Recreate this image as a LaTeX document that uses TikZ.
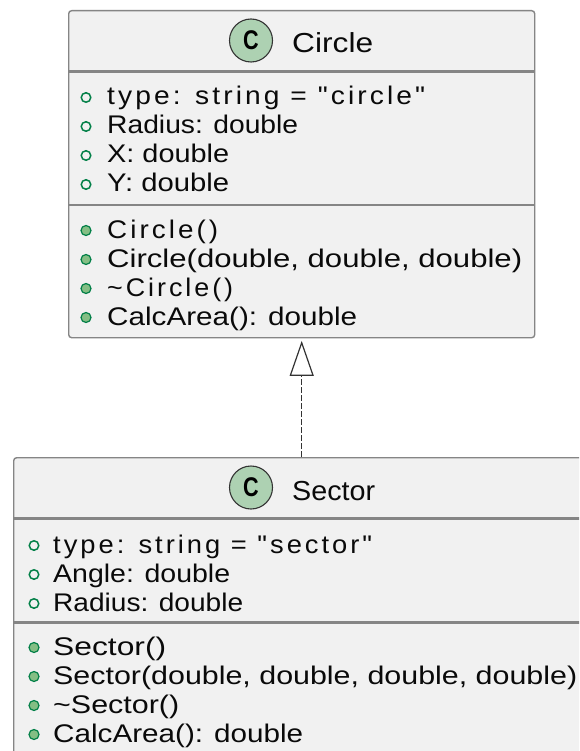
\documentclass[tikz,border=0pt]{standalone}
\usepackage{fontspec}
\usepackage{graphicx}
\setmainfont{Liberation Sans}
\newfontfamily\spacedfont{Liberation Sans}[LetterSpace=11]
\newfontfamily\iconfont{Liberation Sans}[FakeStretch=0.8]
\usetikzlibrary{arrows.meta}
\newcommand\fitw[2]{\resizebox{#1pt}{\height}{#2}}
\definecolor{boxbg}{HTML}{F1F1F1}
\definecolor{boxborder}{HTML}{858585}
\definecolor{iconfill}{HTML}{ADD1B2}
\definecolor{markgreen}{HTML}{038048}
\definecolor{markfill}{HTML}{84BE84}
\definecolor{txt}{HTML}{0A0A0A}
\tikzset{
  classbox/.style={draw=boxborder, fill=boxbg, line width=1.4pt, rounded corners=3pt,
    rectangle, inner sep=0pt, anchor=north west},
  sepline/.style={draw=boxborder, line width=2.4pt},
  iconc/.style={circle, draw=black!80, line width=1.1pt, fill=iconfill, minimum size=43pt,
    inner sep=0pt, font=\iconfont\bfseries\fontsize{27}{27}\selectfont, text=black},
  titletext/.style={anchor=base west, inner sep=0pt, text=txt, font=\fontsize{27.5}{30}\selectfont},
  member/.style={anchor=base west, inner sep=0pt, text=txt, font=\fontsize{25.5}{29}\selectfont},
  spacedmember/.style={member, font=\spacedfont\fontsize{25.5}{29}\selectfont},
  pubfield/.style={circle, draw=markgreen, line width=1.5pt, minimum size=9.5pt, inner sep=0pt},
  pubmethod/.style={circle, draw=markgreen, fill=markfill, line width=1.2pt, minimum size=10pt, inner sep=0pt},
  inherit/.style={draw=black!80, line width=1.3pt, dash pattern=on 6pt off 2pt,
    -{Triangle[open, length=35pt, width=24pt, line width=1.2pt]}, shorten >=2.5pt},
}
\begin{document}
\begin{tikzpicture}[x=1pt, y=-1pt]
\useasboundingbox (0,0) rectangle (579,751);
\clip (0,0) rectangle (579,751);
\fill[white] (0,0) rectangle (579,751);

% ---- Circle class ----
\node[classbox, minimum width=466pt, minimum height=327pt] (circlebox) at (68,10) {};
\draw[sepline] ([xshift=0.7pt,yshift=-61.5pt]circlebox.north west) -- ([xshift=-0.7pt,yshift=-61.5pt]circlebox.north east);
\draw[sepline] ([xshift=0.7pt,yshift=-195pt]circlebox.north west) -- ([xshift=-0.7pt,yshift=-195pt]circlebox.north east);
\node[iconc] (circleicon) at (251,40.5) {C};
\node[titletext] (circletitle) at (292,53) {\fitw{81}{Circle}};

\node[pubfield] (cf1) at (86,97.5) {};
\node[spacedmember] (cft1) at (107,105) {\fitw{318}{type: string = "circle"}};
\node[pubfield] (cf2) at (86,126.5) {};
\node[member] (cft2) at (107,134) {\fitw{191}{Radius: double}};
\node[pubfield] (cf3) at (86,155.5) {};
\node[member] (cft3) at (107,163) {\fitw{122}{X: double}};
\node[pubfield] (cf4) at (86,184.5) {};
\node[member] (cft4) at (107,192) {\fitw{122}{Y: double}};

\node[pubmethod] (cm1) at (86,230.5) {};
\node[spacedmember] (cmt1) at (107,238) {\fitw{111}{Circle()}};
\node[pubmethod] (cm2) at (86,259.5) {};
\node[member] (cmt2) at (107,267) {\fitw{415}{Circle(double, double, double)}};
\node[pubmethod] (cm3) at (86,288.5) {};
\node[spacedmember] (cmt3) at (107,296) {\fitw{126}{\char"7E Circle()}};
\node[pubmethod] (cm4) at (86,317.5) {};
\node[member] (cmt4) at (107,325) {\fitw{250}{CalcArea(): double}};

% ---- Sector class ----
\node[classbox, minimum width=576pt, minimum height=330pt] (sectorbox) at (13,457) {};
\draw[sepline] ([xshift=0.7pt,yshift=-61.5pt]sectorbox.north west) -- ([xshift=-0.7pt,yshift=-61.5pt]sectorbox.north east);
\draw[sepline] ([xshift=0.7pt,yshift=-165.5pt]sectorbox.north west) -- ([xshift=-0.7pt,yshift=-165.5pt]sectorbox.north east);
\node[iconc] (sectoricon) at (251,487.5) {C};
\node[titletext] (sectortitle) at (292,500) {\fitw{83}{Sector}};

\node[pubfield] (sf1) at (34,545.5) {};
\node[spacedmember] (sft1) at (53,553) {\fitw{319}{type: string = "sector"}};
\node[pubfield] (sf2) at (34,574.5) {};
\node[member] (sft2) at (53,582) {\fitw{177}{Angle: double}};
\node[pubfield] (sf3) at (34,603.5) {};
\node[member] (sft3) at (53,611) {\fitw{190}{Radius: double}};

\node[pubmethod] (sm1) at (34,647.5) {};
\node[member] (smt1) at (53,655) {\fitw{113}{Sector()}};
\node[pubmethod] (sm2) at (34,676.5) {};
\node[member] (smt2) at (53,684) {\fitw{524}{Sector(double, double, double, double)}};
\node[pubmethod] (sm3) at (34,705.5) {};
\node[member] (smt3) at (53,713) {\fitw{126}{\char"7E Sector()}};
\node[pubmethod] (sm4) at (34,734.5) {};
\node[member] (smt4) at (53,742) {\fitw{250}{CalcArea(): double}};

% ---- inheritance ----
\draw[inherit] (sectorbox.north) -- (circlebox.south);
\end{tikzpicture}
\end{document}
